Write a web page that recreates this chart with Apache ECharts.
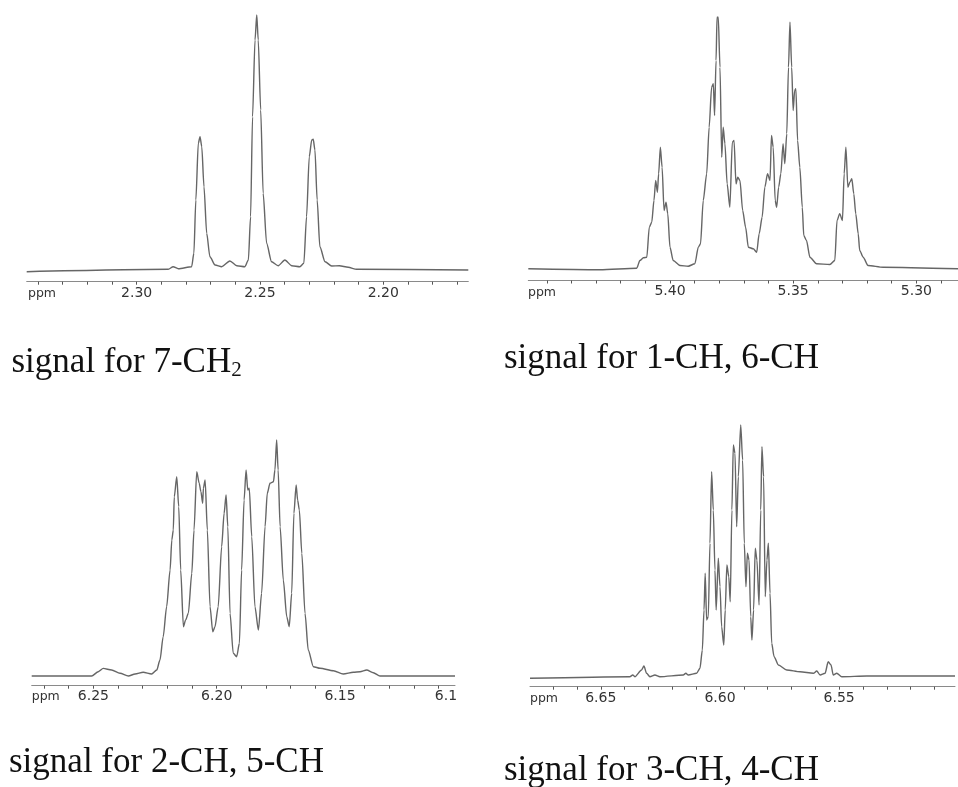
<!DOCTYPE html>
<html>
<head>
<meta charset="utf-8">
<script src="https://cdn.jsdelivr.net/npm/echarts@6/dist/echarts.min.js"></script>
<style>
html,body{margin:0;padding:0;background:#fff;}
#chart{width:958px;height:787px;}
</style>
</head>
<body>
<div id="chart"></div>
<script>
// ---------- Panel 1: 7-CH2 ----------
var ppm1 = [2.3446, 2.2872, 2.2852, 2.2831, 2.2777, 2.2768, 2.2760, 2.2750, 2.2743, 2.2736, 2.2727, 2.2716, 2.2703, 2.2682, 2.2655, 2.2622, 2.2594, 2.2561, 2.2547, 2.2538, 2.2530, 2.2520, 2.2513, 2.2507, 2.2497, 2.2487, 2.2473, 2.2453, 2.2426, 2.2399, 2.2371, 2.2338, 2.2322, 2.2311, 2.2300, 2.2290, 2.2284, 2.2277, 2.2268, 2.2257, 2.2236, 2.2209, 2.2178, 2.2142, 2.2108, 2.1655];
var int1 = [10, 12.4, 15, 13, 15, 28.4, 81.7, 138.4, 145, 135, 95, 48.4, 25, 16.7, 15, 20.7, 16, 15, 21.7, 65, 165, 241.7, 266.7, 241.7, 171.7, 88.4, 38.4, 20, 16, 21.7, 16, 15, 18.4, 65, 125, 141.7, 142.4, 131.7, 81.7, 35, 20, 15.7, 16, 14.4, 12.4, 11.7];
var ticks1 = [2.34, 2.33, 2.32, 2.31, 2.30, 2.29, 2.28, 2.27, 2.26, 2.25, 2.24, 2.23, 2.22, 2.21, 2.20, 2.19, 2.18, 2.17];
var labels1 = [2.30, 2.25, 2.20];

// ---------- Panel 2: 1-CH, 6-CH ----------
var ppm2 = [5.4575, 5.4284, 5.4135, 5.4122, 5.4108, 5.4094, 5.4084, 5.4074, 5.4065, 5.4058,
  5.4051, 5.4046, 5.4039, 5.4032, 5.4024, 5.4016, 5.4009, 5.4000, 5.3987, 5.3959,
  5.3926, 5.3899, 5.3885, 5.3876, 5.3865, 5.3851, 5.3841, 5.3831, 5.3824, 5.3819,
  5.3813, 5.3809, 5.3804, 5.3797, 5.3790, 5.3784, 5.3777, 5.3768, 5.3757, 5.3747,
  5.3740, 5.3732, 5.3725, 5.3716, 5.3705, 5.3693, 5.3682, 5.3662, 5.3648, 5.3638,
  5.3626, 5.3615, 5.3604, 5.3594, 5.3588, 5.3581, 5.3573, 5.3567, 5.3559, 5.3550,
  5.3541, 5.3534, 5.3526, 5.3519, 5.3513, 5.3506, 5.3500, 5.3494, 5.3489, 5.3482,
  5.3473, 5.3463, 5.3457, 5.3446, 5.3432, 5.3405, 5.3351, 5.3331, 5.3322, 5.3311,
  5.3300, 5.3293, 5.3286, 5.3278, 5.3270, 5.3262, 5.3254, 5.3246, 5.3236, 5.3230,
  5.3216, 5.3196, 5.3135, 5.2831];
var int2 = [11.7, 10.7, 12.3, 20, 22.7, 23.3, 53.3, 58.3, 80, 100,
  88.3, 106.7, 133.3, 113.3, 70, 78.3, 66.7, 33.3, 20, 15,
  14.3, 16.7, 33.3, 36.7, 80, 106.7, 153.3, 193.3, 196.7, 165,
  220, 263.3, 263.3, 213.3, 123.3, 153.3, 136.7, 96.7, 73.3, 138.3,
  140, 96.7, 103.3, 100, 70, 53.3, 33.3, 31.7, 28.3, 46.7,
  63.3, 93.3, 106.7, 100, 145, 133.3, 80, 73.3, 93.3, 106.7,
  136.7, 116.7, 146.7, 213.3, 258.3, 213.3, 170, 190, 191.7, 140,
  113.3, 73.3, 45, 40, 23.3, 16.7, 16, 20, 60, 66.7,
  60, 106.7, 133.3, 93.3, 98.3, 101.7, 86.7, 66.7, 46.7, 30,
  23.3, 15, 13.3, 11.7];
var ticks2 = [5.45, 5.44, 5.43, 5.42, 5.41, 5.40, 5.39, 5.38, 5.37, 5.36, 5.35, 5.34, 5.33, 5.32, 5.31, 5.30, 5.29];
var labels2 = [5.40, 5.35, 5.30];

// ---------- Panel 3: 2-CH, 5-CH ----------
var ppm3 = [6.2750, 6.2507, 6.2480, 6.2460, 6.2426, 6.2392, 6.2358, 6.2331, 6.2298, 6.2264,
  6.2243, 6.2230, 6.2217, 6.2203, 6.2189, 6.2182, 6.2176, 6.2172, 6.2162, 6.2154,
  6.2146, 6.2135, 6.2126, 6.2115, 6.2101, 6.2092, 6.2081, 6.2071, 6.2064, 6.2057,
  6.2054, 6.2047, 6.2038, 6.2027, 6.2016, 6.2007, 6.1994, 6.1980, 6.1970, 6.1962,
  6.1955, 6.1946, 6.1933, 6.1919, 6.1908, 6.1899, 6.1889, 6.1881, 6.1874, 6.1868,
  6.1858, 6.1845, 6.1831, 6.1818, 6.1804, 6.1795, 6.1784, 6.1770, 6.1764, 6.1757,
  6.1751, 6.1743, 6.1730, 6.1716, 6.1706, 6.1696, 6.1687, 6.1678, 6.1672, 6.1665,
  6.1655, 6.1642, 6.1629, 6.1608, 6.1581, 6.1527, 6.1487, 6.1446, 6.1419, 6.1392,
  6.1365, 6.1338, 6.1034];
var int3 = [9.7, 9.7, 14, 17.3, 15.7, 12.4, 9.7, 11.7, 13.4, 11.7,
  15.7, 25.7, 49, 79, 115.7, 145.7, 155.7, 189, 209, 179,
  115.7, 59, 65.7, 72.4, 112.4, 155.7, 214, 202.4, 194, 182.4,
  197.4, 205.7, 155.7, 79, 54, 59, 79, 139, 172.4, 190.7,
  159, 72.4, 32.4, 29, 42.4, 115.7, 185.7, 215.7, 195.7, 197.4,
  149, 79, 55.7, 92.4, 159, 192.4, 202.4, 204, 215.7, 245.7,
  215.7, 159, 105.7, 69, 59, 92.4, 172.4, 200.7, 185.7, 175.7,
  132.4, 72.4, 35.7, 19, 17.4, 15, 11.7, 13.4, 14, 15.7,
  13, 9.7, 9.7];
var ticks3 = [6.27, 6.26, 6.25, 6.24, 6.23, 6.22, 6.21, 6.20, 6.19, 6.18, 6.17, 6.16, 6.15, 6.14, 6.13, 6.12, 6.11];
var labels3 = [6.25, 6.20, 6.15];

// ---------- Panel 4: 3-CH, 4-CH ----------
var ppm4 = [6.6797, 6.6378, 6.6366, 6.6357, 6.6329, 6.6319, 6.6308, 6.6294, 6.6273, 6.6252,
  6.6154, 6.6143, 6.6133, 6.6098, 6.6084, 6.6074, 6.6067, 6.6062, 6.6056, 6.6049,
  6.6042, 6.6035, 6.6028, 6.6021, 6.6016, 6.6007, 6.6000, 6.5993, 6.5984, 6.5978,
  6.5971, 6.5963, 6.5957, 6.5950, 6.5944, 6.5937, 6.5930, 6.5923, 6.5913, 6.5905,
  6.5898, 6.5891, 6.5885, 6.5878, 6.5871, 6.5866, 6.5859, 6.5852, 6.5845, 6.5836,
  6.5829, 6.5824, 6.5817, 6.5810, 6.5803, 6.5797, 6.5790, 6.5783, 6.5773, 6.5755,
  6.5720, 6.5664, 6.5608, 6.5594, 6.5580, 6.5559, 6.5546, 6.5534, 6.5525, 6.5510,
  6.5489, 6.5384, 6.5014];
var int4 = [8.4, 10, 11.7, 10, 16.7, 20.7, 13.4, 10, 11.7, 10,
  11.7, 13.4, 11.7, 13.4, 18.4, 36.7, 76.7, 113.4, 66.7, 70,
  143.4, 215, 176.7, 116.7, 76.7, 128.4, 100, 60, 41.7, 76.7,
  121.7, 110, 85, 176.7, 241.7, 233.4, 160, 210, 261.7, 226.7,
  143.4, 100, 133.4, 126.7, 70, 46.7, 76.7, 138.4, 126.7, 81.7,
  176.7, 240, 210, 90, 126.7, 143.4, 93.4, 43.4, 30, 21.7,
  16.7, 15, 13.4, 15.7, 11.7, 13.4, 25, 21.7, 11.7, 13.4,
  10, 10.7, 10.7];
var ticks4 = [6.67, 6.66, 6.65, 6.64, 6.63, 6.62, 6.61, 6.60, 6.59, 6.58, 6.57, 6.56, 6.55, 6.54, 6.53, 6.52, 6.51];
var labels4 = [6.65, 6.60, 6.55];

var titles = ['signal for 7-CH{s|2}', 'signal for 1-CH, 6-CH', 'signal for 2-CH, 5-CH', 'signal for 3-CH, 4-CH'];
var axisUnit = 'ppm';
var extraEdgeLabel = '6.1';

function pairs(xs, ys) {
  var out = [];
  for (var i = 0; i < xs.length; i++) out.push([xs[i], ys[i]]);
  return out;
}

var panels = [
  {ppm: ppm1, val: int1, ticks: ticks1, labels: labels1, grid: {left: 26.7, right: 489.7, top: 10, bottom: 505.3}, ymax: 271.7, margin: 5},
  {ppm: ppm2, val: int2, ticks: ticks2, labels: labels2, grid: {left: 528.3, right: 0, top: 10, bottom: 506.5}, ymax: 270.5, margin: 4},
  {ppm: ppm3, val: int3, ticks: ticks3, labels: labels3, grid: {left: 31.7, right: 503, top: 420, bottom: 101.3}, ymax: 265.7, margin: 3.5},
  {ppm: ppm4, val: int4, ticks: ticks4, labels: labels4, grid: {left: 530, right: 3, top: 410, bottom: 100.3}, ymax: 276.7, margin: 5}
];

var grids = [], xAxes = [], yAxes = [], series = [];
panels.forEach(function (p, i) {
  grids.push(Object.assign({containLabel: false}, p.grid));
  xAxes.push({
    type: 'value', gridIndex: i, inverse: true,
    min: p.ppm[p.ppm.length - 1], max: p.ppm[0],
    axisLine: {show: true, lineStyle: {color: '#8a8a8a', width: 1}},
    axisTick: {show: true, customValues: p.ticks, length: 3, lineStyle: {color: '#555', width: 1}},
    axisLabel: {
      show: true, customValues: p.labels, margin: p.margin,
      color: '#333', fontSize: 14, fontFamily: 'DejaVu Sans',
      formatter: function (v) { return v.toFixed(2); }
    },
    splitLine: {show: false}
  });
  yAxes.push({type: 'value', gridIndex: i, min: 0, max: p.ymax, show: false, splitLine: {show: false}});
  series.push({
    type: 'line', xAxisIndex: i, yAxisIndex: i,
    data: pairs(p.ppm, p.val),
    showSymbol: false, symbol: 'none',
    smooth: 0.25, smoothMonotone: 'x',
    lineStyle: {color: '#666666', width: 1.4},
    silent: true
  });
});

function txt(x, y, text, size, family, color, align, extra) {
  var st = {text: text, x: 0, y: 0, fill: color, fontSize: size, fontFamily: family,
    align: align, verticalAlign: 'middle', textAlign: align, textVerticalAlign: 'middle'};
  if (extra) Object.assign(st, extra);
  return {type: 'text', x: x, y: y, silent: true, style: st};
}

var richTitle = {
  rich: {
    s: {fontSize: 21, lineHeight: 21, verticalAlign: 'bottom', fontFamily: 'Liberation Serif', fill: '#111'}
  },
  lineHeight: 35
};

var graphics = [
  txt(11.5, 363, titles[0], 35, 'Liberation Serif', '#111', 'left', richTitle),
  txt(504, 358.5, titles[1], 35, 'Liberation Serif', '#111', 'left'),
  txt(9, 763, titles[2], 35, 'Liberation Serif', '#111', 'left'),
  txt(504, 771, titles[3], 35, 'Liberation Serif', '#111', 'left'),
  txt(28, 294, axisUnit, 12.5, 'DejaVu Sans', '#333', 'left'),
  txt(528, 292.5, axisUnit, 12.5, 'DejaVu Sans', '#333', 'left'),
  txt(31.7, 697, axisUnit, 12.5, 'DejaVu Sans', '#333', 'left'),
  txt(530, 699, axisUnit, 12.5, 'DejaVu Sans', '#333', 'left'),
  txt(446, 696, extraEdgeLabel, 14, 'DejaVu Sans', '#333', 'center')
];

var chart = echarts.init(document.getElementById('chart'), null, {renderer: 'canvas'});
chart.setOption({
  backgroundColor: '#ffffff',
  animation: false,
  grid: grids,
  xAxis: xAxes,
  yAxis: yAxes,
  series: series,
  graphic: graphics
});
</script>
</body>
</html>
